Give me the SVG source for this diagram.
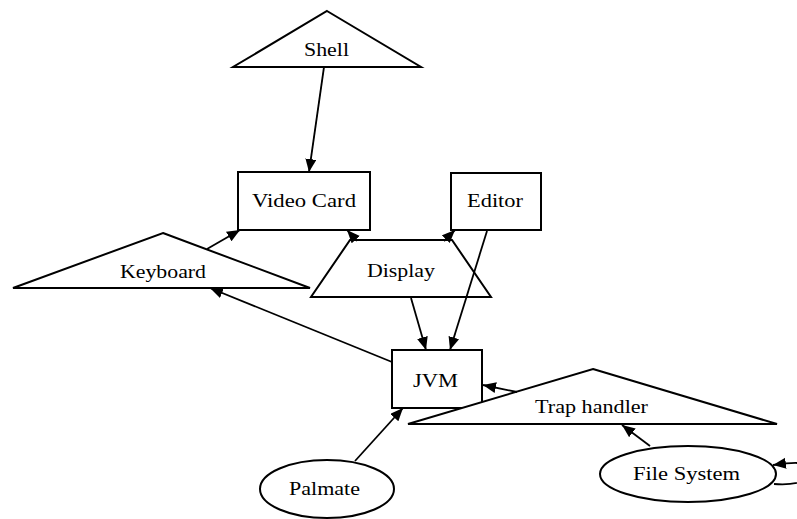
<svg xmlns="http://www.w3.org/2000/svg" width="797" height="519" viewBox="0 0 797 519">
<defs>
<marker id="ah" markerWidth="14" markerHeight="12" refX="13" refY="5.5" orient="auto" markerUnits="userSpaceOnUse">
<path d="M0,0 L13,5.5 L0,11 Z" fill="#000"/>
</marker>
</defs>
<style>
.n{fill:#fff;stroke:#000;stroke-width:2}
.e{fill:none;stroke:#000;stroke-width:1.8;marker-end:url(#ah)}
text{font-family:"Liberation Serif","Times New Roman",serif;font-size:18px;fill:#000}
</style>
<rect width="797" height="519" fill="#fff"/>
<g id="Shell"><polygon class="n" points="327,11 421,67 233,67"/><text x="304" y="56" textLength="45" lengthAdjust="spacingAndGlyphs">Shell</text></g>
<g id="VideoCard"><rect class="n" x="238" y="172" width="132" height="58"/><text x="252" y="207" textLength="104" lengthAdjust="spacingAndGlyphs">Video Card</text></g>
<g id="Editor"><rect class="n" x="451" y="173" width="90" height="57"/><text x="467" y="207" textLength="56" lengthAdjust="spacingAndGlyphs">Editor</text></g>
<g id="Keyboard"><polygon class="n" points="163,233 310,288 13,288"/><text x="120" y="278" textLength="86" lengthAdjust="spacingAndGlyphs">Keyboard</text></g>
<g id="Display"><polygon class="n" points="350,240 452,240 491,297 311,297"/><text x="367" y="277" textLength="68" lengthAdjust="spacingAndGlyphs">Display</text></g>
<g id="JVM"><rect class="n" x="392" y="350" width="90" height="58"/><text x="413" y="387" textLength="45" lengthAdjust="spacingAndGlyphs">JVM</text></g>
<g id="TrapHandler"><polygon class="n" points="593,369 777,424 408,424"/><text x="535" y="413" textLength="113" lengthAdjust="spacingAndGlyphs">Trap handler</text></g>
<g id="FileSystem"><ellipse class="n" cx="688" cy="474" rx="88" ry="28"/><text x="633" y="480" textLength="107" lengthAdjust="spacingAndGlyphs">File System</text></g>
<g id="Palmate"><ellipse class="n" cx="327" cy="489" rx="67" ry="29"/><text x="289" y="495" textLength="71" lengthAdjust="spacingAndGlyphs">Palmate</text></g>
<g id="edges">
<path class="e" d="M324,67 L309,172"/>
<path class="e" d="M207,249 L240,230"/>
<path class="e" d="M357,241 L347,230"/>
<path class="e" d="M444,241 L455,230"/>
<path class="e" d="M411,298 L426,350"/>
<path class="e" d="M487,231 L450,350"/>
<path class="e" d="M392,362 L210,288"/>
<path class="e" d="M517,392 L483,385"/>
<path class="e" d="M355,461 L403,408"/>
<path class="e" d="M650,446 L622,425"/>
<path class="e" d="M774,484 C800,486 815,478 812,471 C808,461 795,462 773,465"/>
</g>
</svg>
